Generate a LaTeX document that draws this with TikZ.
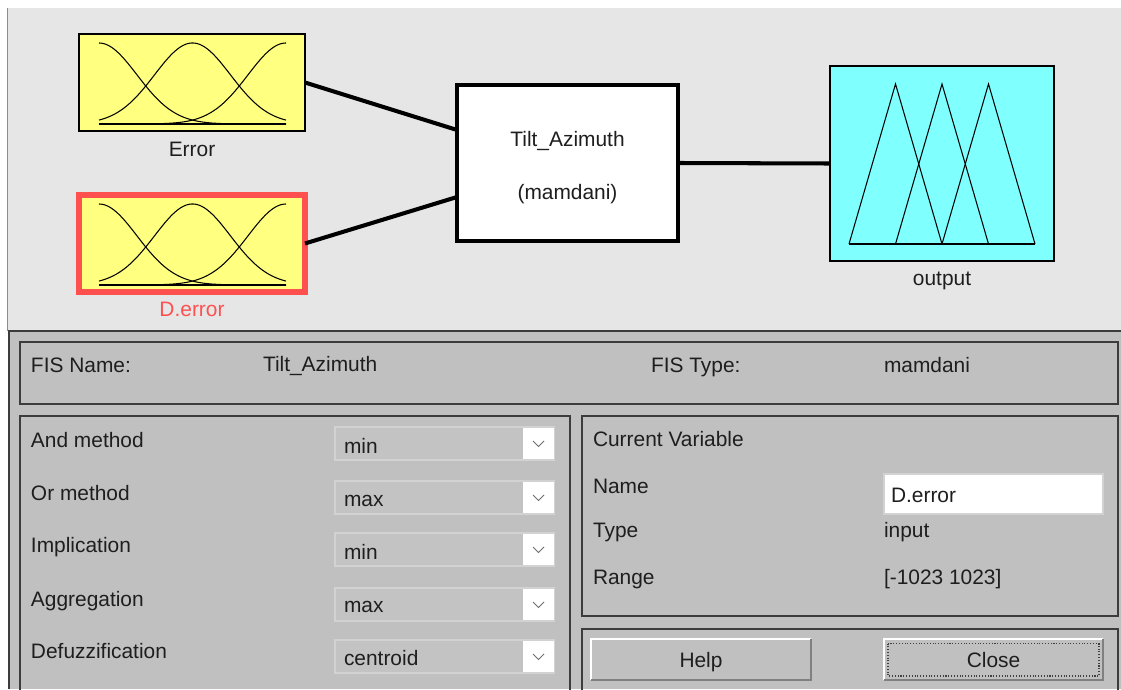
\documentclass[tikz,border=0pt]{standalone}
\usepackage{fontspec}
\setmainfont{Liberation Sans}
\usetikzlibrary{calc}
\definecolor{topbg}{HTML}{E6E6E6}
\definecolor{panelbg}{HTML}{C0C0C0}
\definecolor{frame}{HTML}{3C3C3C}
\definecolor{mfyellow}{HTML}{FFFF80}
\definecolor{mfcyan}{HTML}{80FFFF}
\definecolor{selred}{HTML}{FF5050}
\definecolor{txt}{HTML}{1E1E1E}
\definecolor{ddedge}{HTML}{D2D2D2}
\definecolor{chev}{HTML}{6E6E6E}
\begin{document}
\begin{tikzpicture}[x=0.02cm,y=-0.02cm,
  every node/.style={font=\fontsize{11.9}{14}\selectfont, text=txt, inner sep=0pt, outer sep=0pt},
  lbl/.style={anchor=base west},
  ctr/.style={anchor=base},
  inbox/.style={draw=black, line width=1.15pt, fill=mfyellow, minimum width=4.52cm, minimum height=1.94cm},
  selbox/.style={draw=selred, line width=3.4pt, fill=mfyellow, minimum width=4.52cm, minimum height=1.94cm},
  sysbox/.style={draw=black, line width=2.3pt, fill=white, minimum width=4.42cm, minimum height=3.12cm},
  outbox/.style={draw=black, line width=1.15pt, fill=mfcyan, minimum width=4.48cm, minimum height=3.9cm},
  wire/.style={draw=black, line width=2.3pt},
  mf/.style={draw=black, line width=0.6pt},
  panel/.style={draw=frame, line width=1.1pt},
  btn/.style={fill=panelbg, minimum width=4.4cm, minimum height=0.82cm},
]
\useasboundingbox (0,0) rectangle (1121,689);
\fill[white] (0,0) rectangle (1121,689);

% ---- diagram area ----
\fill[topbg] (7,8) rectangle (1121,331);
\draw[black!45, line width=1.1pt] (7.5,8) -- (7.5,331);

\node[inbox] (err) at (192,82.5) {};
\node[selbox] (derr) at (192,243.5) {};
\node[sysbox] (tilt) at (567.5,163) {};
\node[outbox] (out) at (942,163.5) {};

% gaussian membership functions of the two inputs
\foreach \b in {124,285}{
  \foreach \c in {99,192.5,286}{
    \draw[mf] plot[domain=99:286,samples=90,smooth]
      (\x,{\b-81*exp(-0.5*((\x-\c)/38)*((\x-\c)/38))});
  }
  \draw[mf] (99,\b) -- (286,\b);
}

% triangular membership functions of the output
\draw[mf] (849,244) -- (895.5,84) -- (942,244);
\draw[mf] (895.5,244) -- (942,84) -- (988.5,244);
\draw[mf] (942,244) -- (988.5,84) -- (1035,244);
\draw[mf] (849,244) -- (1035,244);

\draw[wire] (err.east) -- ($(tilt.west)+(0,-33)$);
\draw[wire] (derr.east) -- ($(tilt.west)+(0,34)$);
\draw[wire] (tilt.east) -- (out.west);

\node[ctr] (errlbl) at (192,157) {Error};
\node[ctr, text=selred] (derrlbl) at (192,316) {D.error};
\node[ctr] (outlbl) at (942,285) {output};
\node[ctr] (sysname) at (567.5,147) {Tilt\_Azimuth};
\node[ctr] (systype) at (567.5,199) {(mamdani)};

% ---- control panel ----
\fill[panelbg] (8,331) rectangle (1121,689);
\draw[frame, line width=1.2pt] (9,689) -- (9,331) -- (1121,331);

\draw[panel] (20,342) rectangle (1118,404);
\draw[panel] (20,692) -- (20,416) -- (570,416) -- (570,692);
\draw[panel] (582,416) rectangle (1118,616);
\draw[panel] (582,692) -- (582,629) -- (1118,629) -- (1118,692);

\node[lbl] (fisname) at (31,372) {FIS Name:};
\node[lbl] (fisnameval) at (263,371) {Tilt\_Azimuth};
\node[lbl] (fistype) at (651,372) {FIS Type:};
\node[lbl] (fistypeval) at (884,372) {mamdani};

% method selectors
\foreach \yt/\lab/\val/\lb/\vb/\nm in {
    427/And method/min/447/453/and,
    481/Or method/max/500/506/or,
    533/Implication/min/552/559/imp,
    588/Aggregation/max/606/612/agg,
    640/Defuzzification/centroid/658/665/defuzz}{
  \node[lbl] (\nm lbl) at (31,\lb) {\lab};
  \filldraw[fill=panelbg!96!white, draw=ddedge, line width=0.8pt] (335,\yt) rectangle (554,{\yt+33});
  \fill[white] (523,{\yt+1}) rectangle (553.5,{\yt+32});
  \draw[chev, line width=0.5pt] (533,{\yt+14}) -- (538.5,{\yt+19.5}) -- (544,{\yt+14});
  \node[lbl] (\nm val) at (344,\vb) {\val};
}

% current variable
\node[lbl] (cvtitle) at (593,446) {Current Variable};
\node[lbl] (cvname) at (593,493) {Name};
\node[lbl] (cvtype) at (593,537) {Type};
\node[lbl] (cvrange) at (593,584) {Range};
\filldraw[fill=white, draw=ddedge, line width=0.8pt] (884,474) rectangle (1103,514);
\node[lbl] (cvnameval) at (891,502) {D.error};
\node[lbl] (cvtypeval) at (884,537) {input};
\node[lbl] (cvrangeval) at (884,584) {[-1023 1023]};

% buttons
\node[btn] (help) at (701,659.5) {};
\draw[white, line width=1.2pt] (help.south west) -- (help.north west) -- (help.north east);
\draw[black!50, line width=1.2pt] (help.south west) -- (help.south east) -- (help.north east);
\node[ctr] (helplbl) at (701,667) {Help};

\node[btn, minimum width=4.38cm] (close) at (993.5,659.5) {};
\draw[white, line width=1.2pt] (close.south west) -- (close.north west) -- (close.north east);
\draw[black!50, line width=1.2pt] (close.south west) -- (close.south east) -- (close.north east);
\draw[black!75, densely dotted, line width=0.6pt] (888,643.5) rectangle (1099,676);
\node[ctr] (closelbl) at (993.5,667) {Close};
\end{tikzpicture}
\end{document}
